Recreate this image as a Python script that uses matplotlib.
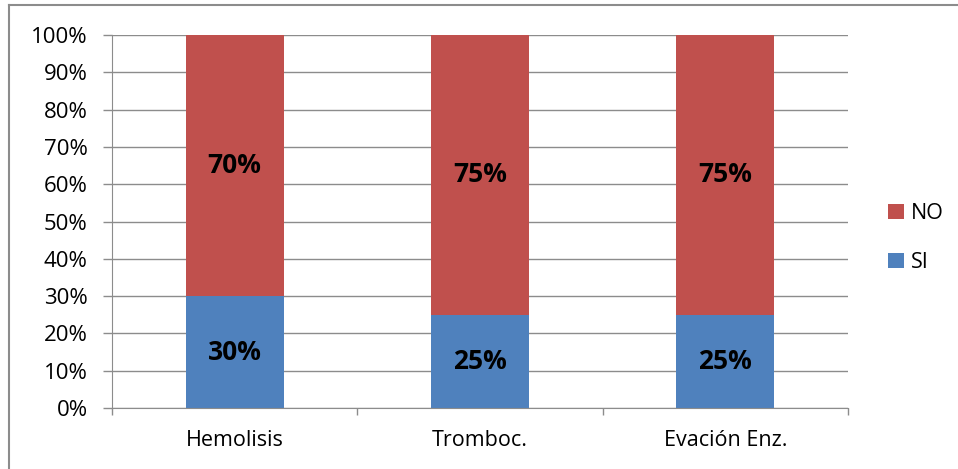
import matplotlib
matplotlib.use("Agg")
import matplotlib.pyplot as plt
from matplotlib.lines import Line2D
import numpy as np

categories = ["Hemolisis", "Tromboc.", "Evación Enz."]
si_values = [30, 25, 25]
no_values = [70, 75, 75]
yticks = [0, 10, 20, 30, 40, 50, 60, 70, 80, 90, 100]

plt.rcParams['font.family'] = ['Open Sans', 'DejaVu Sans']

fig = plt.figure(figsize=(9.58, 4.69), dpi=100)
ax = fig.add_axes([112/958, 1-408/469, (848-112)/958, (408-35)/469])

blue = "#4F81BD"
red = "#C0504D"
x = np.arange(len(categories))
w = 0.4
b1 = ax.bar(x, si_values, w, color=blue, label="SI", zorder=2)
b2 = ax.bar(x, no_values, w, bottom=si_values, color=red, label="NO", zorder=2)

for i in range(len(categories)):
    ax.text(x[i], si_values[i]/2, f"{si_values[i]}%", ha="center", va="center",
            fontsize=19, fontweight="bold", zorder=3)
    ax.text(x[i], si_values[i] + no_values[i]/2, f"{no_values[i]}%", ha="center", va="center",
            fontsize=19, fontweight="bold", zorder=3)

ax.set_xlim(-0.5, len(categories)-0.5)
ax.set_ylim(0, 100)
ax.set_yticks(yticks)
ax.set_yticklabels([f"{t}%" for t in yticks], fontsize=16)
ax.yaxis.grid(True, color="#8c8c8c", linewidth=1, zorder=0)
ax.set_axisbelow(True)
ax.set_xticks(x)
ax.set_xticklabels(categories, fontsize=15.5)
ax.tick_params(axis="x", length=0, pad=16)
ax.tick_params(axis="y", length=6.5, color="#8c8c8c", width=1, pad=11)
ax.set_xticks(np.arange(-0.5, len(categories), 1), minor=True)
ax.tick_params(axis="x", which="minor", length=5, color="#8c8c8c", width=1)
for s in ["top", "right"]:
    ax.spines[s].set_visible(False)
ax.spines["left"].set_color("#8c8c8c")
ax.spines["bottom"].set_color("#8c8c8c")

handles = [b2, b1]
ax.legend(handles, ["NO", "SI"], loc="center left", bbox_to_anchor=(1.028, 0.456),
          frameon=False, fontsize=15.5, handlelength=0.75, handleheight=0.75,
          handletextpad=0.3, labelspacing=1.3)

fig.lines.append(Line2D([9/958, 9/958], [0, 1-5/469], transform=fig.transFigure,
                        color="#8c8c8c", linewidth=1.5))
fig.lines.append(Line2D([9/958, 1], [1-5/469, 1-5/469], transform=fig.transFigure,
                        color="#8c8c8c", linewidth=1.5))

fig.savefig("out.png", dpi=100)
